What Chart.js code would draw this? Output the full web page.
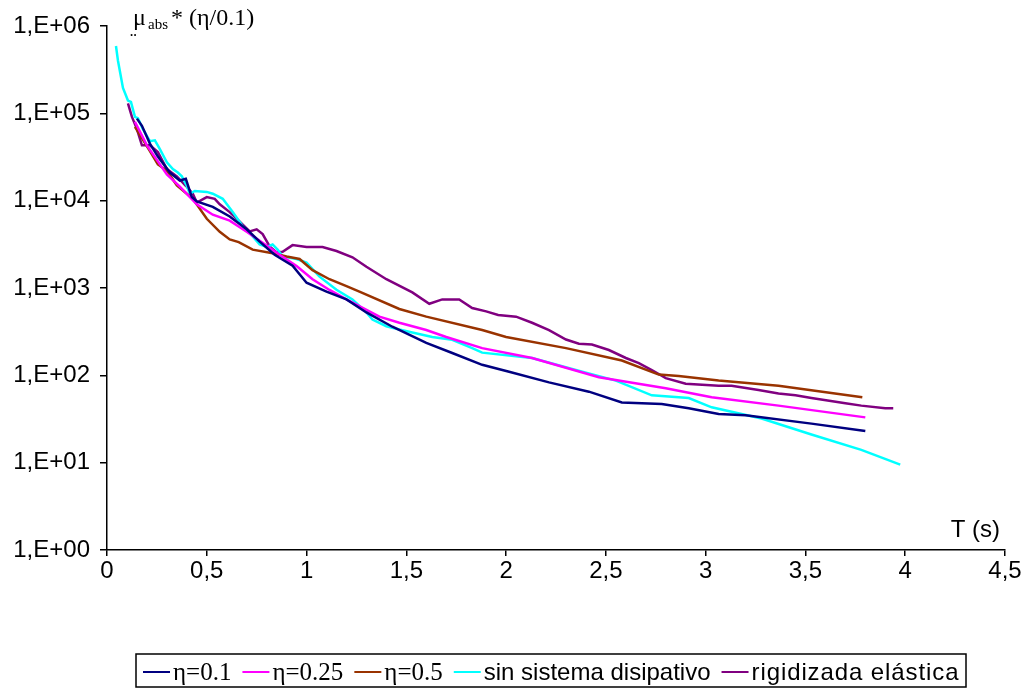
<!DOCTYPE html>
<html lang="es">
<head>
    <meta charset="UTF-8">
    <title>mu abs vs T</title>
    <style>
        html, body { margin: 0; padding: 0; background: #fff; }
        canvas { display: block; }
    </style>
</head>
<body>
    <canvas id="chart" width="1025" height="689"></canvas>

    <script src="https://cdn.jsdelivr.net/npm/chart.js"></script>
    <script>
        // datos (T en s, valor)
        const tEta01 = [0.15, 0.175, 0.215, 0.255, 0.315, 0.365, 0.395, 0.425, 0.45, 0.53, 0.615, 0.70, 0.765, 0.84, 0.93, 1.0, 1.1, 1.2, 1.3, 1.43, 1.6, 1.73, 1.88, 2.015, 2.215, 2.415, 2.58, 2.78, 2.915, 3.065, 3.2, 3.53, 3.8];
        const yEta01 = [87000, 72000, 45000, 32000, 21000, 17000, 17800, 11000, 9800, 8500, 6600, 4700, 3400, 2400, 1800, 1150, 910, 740, 525, 360, 235, 180, 132, 110, 83, 65, 49, 47, 42, 36, 35, 28, 23];

        const tEta025 = [0.14, 0.2, 0.3, 0.365, 0.45, 0.53, 0.615, 0.70, 0.78, 0.865, 0.95, 1.03, 1.115, 1.2, 1.365, 1.465, 1.6, 1.7, 1.88, 2.13, 2.465, 2.8, 3.03, 3.365, 3.8];
        const yEta025 = [80000, 43000, 20000, 14500, 9100, 6900, 5900, 4400, 3300, 2400, 1780, 1260, 950, 740, 470, 400, 330, 275, 205, 158, 95, 71, 56, 45, 33];

        const tEta05 = [0.14, 0.215, 0.255, 0.3, 0.35, 0.43, 0.5, 0.565, 0.615, 0.66, 0.73, 0.83, 0.9, 0.965, 1.03, 1.115, 1.2, 1.265, 1.465, 1.6, 1.88, 2.0, 2.3, 2.58, 2.765, 2.865, 3.065, 3.365, 3.785];
        const yEta05 = [70000, 37000, 26000, 22000, 15000, 10500, 6200, 4400, 3600, 3350, 2750, 2500, 2300, 2150, 1600, 1260, 1050, 910, 575, 470, 330, 275, 205, 148, 102, 98, 87, 76, 56];

        const tSin = [0.045, 0.055, 0.08, 0.105, 0.12, 0.14, 0.155, 0.18, 0.215, 0.24, 0.265, 0.3, 0.33, 0.355, 0.375, 0.4, 0.415, 0.44, 0.5, 0.53, 0.58, 0.63, 0.68, 0.73, 0.765, 0.8, 0.83, 0.855, 0.88, 0.95, 1.0, 1.065, 1.15, 1.23, 1.3, 1.33, 1.4, 1.465, 1.53, 1.63, 1.73, 1.83, 1.88, 2.13, 2.4, 2.55, 2.73, 2.915, 3.03, 3.28, 3.53, 3.78, 3.975];
        const ySin = [590000, 400000, 195000, 140000, 135000, 91000, 88000, 66000, 48000, 49000, 39000, 27500, 23000, 21000, 19000, 14800, 12000, 12900, 12600, 12000, 10500, 7400, 5100, 3900, 3150, 2950, 3150, 2750, 2300, 2150, 1950, 1350, 955, 740, 525, 435, 365, 335, 310, 275, 255, 205, 182, 158, 107, 87, 59, 55, 43, 32, 21, 14, 9.5];

        const tRig = [0.105, 0.125, 0.15, 0.175, 0.215, 0.255, 0.3, 0.35, 0.395, 0.43, 0.45, 0.5, 0.54, 0.565, 0.615, 0.665, 0.715, 0.75, 0.78, 0.815, 0.85, 0.88, 0.93, 1.0, 1.08, 1.15, 1.23, 1.3, 1.4, 1.53, 1.615, 1.68, 1.765, 1.83, 1.9, 1.96, 2.05, 2.13, 2.215, 2.3, 2.365, 2.43, 2.515, 2.6, 2.665, 2.73, 2.8, 2.9, 3.065, 3.13, 3.265, 3.365, 3.45, 3.53, 3.7, 3.78, 3.9, 3.94];
        const yRig = [130000, 91000, 66000, 43000, 43000, 36000, 23000, 19000, 14800, 12000, 9500, 11000, 10500, 9100, 7400, 5750, 4450, 4700, 4150, 3000, 2550, 2600, 3100, 2950, 2950, 2650, 2250, 1750, 1260, 890, 660, 740, 740, 590, 540, 490, 470, 400, 330, 257, 230, 225, 195, 158, 138, 115, 93, 80, 76, 76, 68, 62, 59, 55, 48, 45, 42, 42];

        const xTicks = [0, 0.5, 1, 1.5, 2, 2.5, 3, 3.5, 4, 4.5];
        const yTicks = [1, 10, 100, 1000, 10000, 100000, 1000000];

        const seriesNames = ['η=0.1', 'η=0.25', 'η=0.5', 'sin sistema disipativo', 'rigidizada elástica'];
        const seriesColors = ['#000080', '#FF00FF', '#993300', '#00FFFF', '#800080'];
        const seriesSerif = [true, true, true, false, false];

        const SANS = '"Liberation Sans", Arial, sans-serif';
        const SERIF = '"Liberation Serif", "Times New Roman", serif';

        function pts(ts, ys) {
            return ts.map((t, i) => ({ x: t, y: ys[i] }));
        }

        const allData = [
            pts(tEta01, yEta01),
            pts(tEta025, yEta025),
            pts(tEta05, yEta05),
            pts(tSin, ySin),
            pts(tRig, yRig)
        ];

        // titulo del eje y, "T (s)" y leyenda con recuadro
        const extras = {
            id: 'extras',
            afterDraw(chart) {
                const ctx = chart.ctx;
                ctx.save();
                ctx.fillStyle = '#000';
                ctx.textBaseline = 'alphabetic';
                ctx.textAlign = 'left';

                // mu_abs * (eta/0.1)
                ctx.font = '24px ' + SERIF;
                ctx.fillText('μ', 133, 25);
                ctx.font = '15px ' + SERIF;
                ctx.fillText('abs', 148, 29);
                ctx.font = '24px ' + SERIF;
                ctx.fillText('* (η/0.1)', 171, 25);
                ctx.font = '20px ' + SERIF;
                ctx.fillText('¨', 130, 47);

                // T (s)
                ctx.font = '24px ' + SANS;
                ctx.textAlign = 'right';
                ctx.fillText('T (s)', 1000, 537);

                // leyenda
                ctx.textAlign = 'left';
                const boxLeft = 136, boxRight = 966, boxTop = 654, boxBottom = 687;
                const lineY = 672, baseY = 680;
                let x = boxLeft + 7;
                seriesNames.forEach((name, i) => {
                    ctx.strokeStyle = seriesColors[i];
                    ctx.lineWidth = 2;
                    ctx.beginPath();
                    ctx.moveTo(x, lineY);
                    ctx.lineTo(x + 27, lineY);
                    ctx.stroke();
                    x += 30;
                    ctx.font = (seriesSerif[i] ? '25px ' + SERIF : '24px ' + SANS);
                    // el ultimo texto llega hasta el borde del recuadro
                    ctx.letterSpacing = (i === seriesNames.length - 1) ? '0.9px' : '0px';
                    ctx.fillText(name, x, baseY);
                    x += ctx.measureText(name).width + 11;
                });
                ctx.letterSpacing = '0px';
                ctx.strokeStyle = '#000';
                ctx.lineWidth = 1.5;
                ctx.strokeRect(boxLeft, boxTop, boxRight - boxLeft, boxBottom - boxTop);
                ctx.restore();
            }
        };

        new Chart(document.getElementById('chart'), {
            type: 'line',
            data: {
                datasets: allData.map((d, i) => ({
                    label: seriesNames[i],
                    data: d,
                    borderColor: seriesColors[i],
                    backgroundColor: seriesColors[i],
                    borderWidth: 2.5,
                    pointRadius: 0,
                    tension: 0,
                    fill: false
                }))
            },
            options: {
                responsive: false,
                animation: false,
                layout: { padding: { left: 0, right: 20, top: 26, bottom: 0 } },
                plugins: {
                    legend: { display: false },
                    tooltip: { enabled: false }
                },
                scales: {
                    x: {
                        type: 'linear',
                        min: 0,
                        max: 4.5,
                        afterBuildTicks: s => { s.ticks = xTicks.map(v => ({ value: v })); },
                        afterFit: s => { s.height = 139; },
                        ticks: {
                            color: '#000',
                            font: { family: SANS, size: 24 },
                            padding: 1,
                            maxRotation: 0,
                            callback: v => String(v).replace('.', ',')
                        },
                        grid: { drawOnChartArea: false, color: '#000', tickLength: 6, lineWidth: 1.5 },
                        border: { color: '#000', width: 1.5 }
                    },
                    y: {
                        type: 'logarithmic',
                        min: 1,
                        max: 1000000,
                        afterBuildTicks: s => { s.ticks = yTicks.map(v => ({ value: v })); },
                        afterFit: s => { s.width = 107; },
                        ticks: {
                            color: '#000',
                            font: { family: SANS, size: 24 },
                            padding: 10,
                            callback: v => '1,E+' + String(Math.round(Math.log10(v))).padStart(2, '0')
                        },
                        grid: { drawOnChartArea: false, color: '#000', tickLength: 7, lineWidth: 1.5 },
                        border: { color: '#000', width: 1.5 }
                    }
                }
            },
            plugins: [extras]
        });
    </script>
</body>
</html>
